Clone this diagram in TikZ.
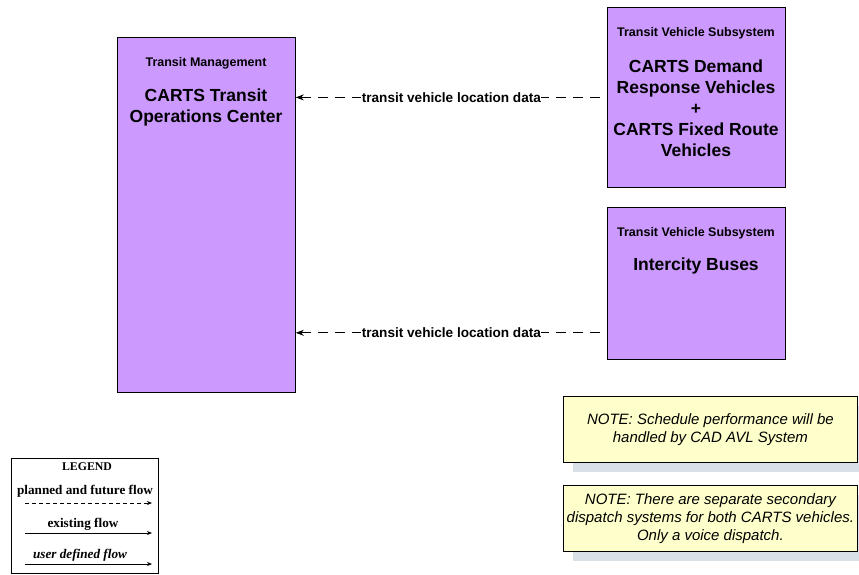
\documentclass[tikz,border=0pt]{standalone}
\usepackage{fontspec}
\setmainfont{Liberation Sans}
\newfontfamily\legendfont{Liberation Serif}
\usetikzlibrary{arrows.meta,positioning}
\definecolor{subsys}{RGB}{204,153,255}
\definecolor{notefill}{RGB}{255,255,204}
\definecolor{noteshadow}{RGB}{217,224,230}
\tikzset{
    subsystem/.style={draw=black, fill=subsys, line width=0.8pt, anchor=north west, inner sep=0pt},
    subtitle/.style={font=\bfseries\fontsize{12.5}{14}\selectfont},
    subname/.style={font=\bfseries\fontsize{17.5}{21}\selectfont, align=center},
    flow/.style={dashed, dash pattern=on 10pt off 7pt, line width=0.8pt, {Stealth[length=8pt,width=6pt]}-},
    flowlabel/.style={fill=white, inner sep=0.5pt, font=\bfseries\fontsize{13.6}{15}\selectfont},
    notebox/.style={draw=black, fill=notefill, line width=0.8pt, anchor=north west, inner sep=0pt,
        minimum width=294pt, minimum height=66pt},
    notetext/.style={font=\itshape\fontsize{15}{18}\selectfont, align=center},
    legendtext/.style={font=\legendfont\bfseries\fontsize{13.2}{14}\selectfont},
    legendarrow/.style={line width=0.8pt, -{Stealth[length=5pt,width=4pt]}}
}
\begin{document}
\begin{tikzpicture}[x=1pt, y=-1pt]
    \useasboundingbox (0,0) rectangle (859,575);

    % Subsystems
    \node[subsystem, minimum width=178pt, minimum height=355pt] (tmc) at (117,37) {};
    \node[subsystem, minimum width=178pt, minimum height=180pt] (demand) at (607,7) {};
    \node[subsystem, minimum width=178pt, minimum height=152pt] (intercity) at (607,207) {};

    \node[subtitle] (tmctitle) at (206,63) {Transit Management};
    \node[subname] (tmcname) at (206,107) {CARTS Transit\\Operations Center};
    \node[subtitle] (demandtitle) at (696,33) {Transit Vehicle Subsystem};
    \node[subname] (demandname) at (696,108) {CARTS Demand\\Response Vehicles\\+\\CARTS Fixed Route\\Vehicles};
    \node[subtitle] (intercitytitle) at (696,233) {Transit Vehicle Subsystem};
    \node[subname] (intercityname) at (696,266) {Intercity Buses};

    % Flows
    \draw[flow] (demand.west -| tmc.east) -- node[flowlabel] {transit vehicle location data} (demand.west);
    \coordinate (intercityend) at ([yshift=27pt]intercity.south west);
    \draw[flow] (intercityend -| tmc.east) -- node[flowlabel] {transit vehicle location data} (intercityend);

    % Notes
    \fill[noteshadow] (573,406) rectangle (867,472);
    \node[notebox] (note1) at (563,396) {};
    \node[notetext] at (note1.center) {NOTE: Schedule performance will be\\handled by CAD AVL System};
    \fill[noteshadow] (573,495) rectangle (867,561);
    \node[notebox] (note2) at (563,485) {};
    \node[notetext] at (note2.center) {NOTE: There are separate secondary\\dispatch systems for both CARTS vehicles.\\Only a voice dispatch.};

    % Legend
    \node[draw=black, line width=0.8pt, anchor=north west, minimum width=147pt, minimum height=115pt] (legend) at (11,458) {};
    \node[font=\legendfont\bfseries\fontsize{11.8}{12}\selectfont] (legendtitle) at (87,467) {LEGEND};
    \node[legendtext] (planned) at (85,491) {planned and future flow};
    \node[legendtext] (existing) at (83,524) {existing flow};
    \node[legendtext, font=\legendfont\bfseries\itshape\fontsize{13.2}{14}\selectfont] (userdef) at (80,555) {user defined flow};
    \coordinate (planneds) at (25,503);
    \coordinate (plannede) at (152,503);
    \coordinate (existings) at (25,533);
    \coordinate (existinge) at (152,533);
    \coordinate (userdefs) at (25,564);
    \coordinate (userdefe) at (152,564);
    \draw[legendarrow, dashed, dash pattern=on 4pt off 3pt] (planneds) -- (plannede);
    \draw[legendarrow] (existings) -- (existinge);
    \draw[legendarrow] (userdefs) -- (userdefe);
\end{tikzpicture}
\end{document}
